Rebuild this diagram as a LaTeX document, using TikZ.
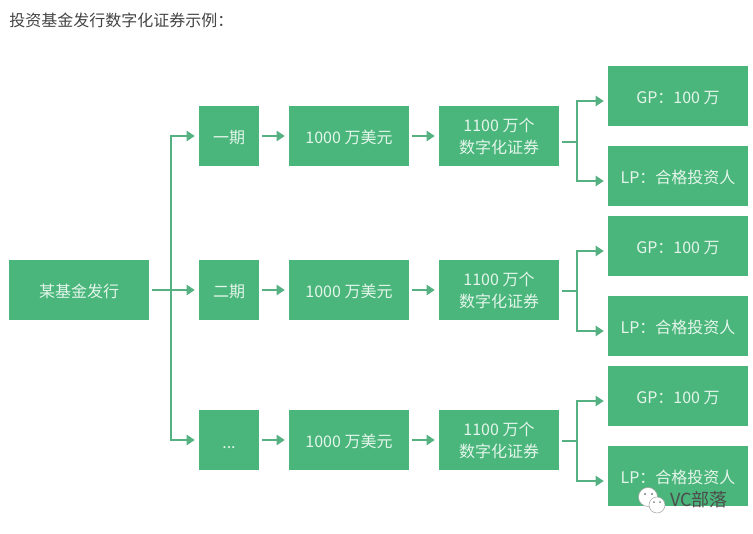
\documentclass[tikz,border=0pt]{standalone}
\usepackage{fontspec}
\setmainfont{Noto Sans CJK SC}
\usetikzlibrary{arrows.meta}
\definecolor{boxgreen}{HTML}{4AB67B}
\definecolor{linegreen}{HTML}{55B182}
\definecolor{boxtext}{HTML}{E4F6EB}
\definecolor{titlegray}{HTML}{444444}

\begin{document}
\begin{tikzpicture}[x=0.75pt, y=-0.75pt,
  box/.style={fill=boxgreen, text=boxtext, inner sep=0pt, align=center,
    minimum height=45pt, font=\fontsize{12}{16.5}\selectfont,
    execute at begin node={\rule{0pt}{12.5pt}}},
  wide/.style={box, minimum width=105pt},
  period/.style={box, minimum width=45pt},
  money/.style={box, minimum width=90pt},
  link/.style={draw=linegreen, line width=1.5pt},
  flow/.style={link, -{Triangle[length=6pt, width=7.5pt]}, shorten >=3pt}]
  \useasboundingbox (0,0) rectangle (753,533);
  \node[anchor=west, inner sep=0pt, text=titlegray, font=\fontsize{12}{14}\selectfont] (title) at (9,20) {投资基金发行数字化证券示例：};
  \node[wide] (root) at (79,290) {某基金发行};
  % first row
  \node[period] (p1) at (229,136) {一期};
  \node[money] (m1) at (349,136) {1000 万美元};
  \node[money] (t1) at (499,136) {1100 万个\\数字化证券};
  \node[wide] (g1) at (678,96) {GP：100 万};
  \node[wide] (l1) at (678,176) {LP：合格投资人};
  % second row
  \node[period] (p2) at (229,290) {二期};
  \node[money] (m2) at (349,290) {1000 万美元};
  \node[money] (t2) at (499,290) {1100 万个\\数字化证券};
  \node[wide] (g2) at (678,246) {GP：100 万};
  \node[wide] (l2) at (678,326) {LP：合格投资人};
  % third row
  \node[period] (p3) at (229,440) {...};
  \node[money] (m3) at (349,440) {1000 万美元};
  \node[money] (t3) at (499,440) {1100 万个\\数字化证券};
  \node[wide] (g3) at (678,396) {GP：100 万};
  \node[wide] (l3) at (678,476) {LP：合格投资人};
  % forks
  \coordinate (f0) at (171,290);
  \coordinate (f1) at (577,142);
  \coordinate (f2) at (577,291);
  \coordinate (f3) at (577,441);
  \draw[flow, shorten <=2pt] (root) -- (p2);
  \draw[flow] (f0) |- (p1);
  \draw[flow] (f0) |- (p3);
  \draw[flow, shorten <=2pt] (p1) -- (m1);
  \draw[flow, shorten <=2pt] (m1) -- (t1);
  \draw[flow, shorten <=2pt] (p2) -- (m2);
  \draw[flow, shorten <=2pt] (m2) -- (t2);
  \draw[flow, shorten <=2pt] (p3) -- (m3);
  \draw[flow, shorten <=2pt] (m3) -- (t3);
  \draw[link, shorten <=2pt] (t1.east |- f1) -- (f1);
  \draw[link, shorten <=2pt] (t2.east |- f2) -- (f2);
  \draw[link, shorten <=2pt] (t3.east |- f3) -- (f3);
  \draw[flow] (f1) |- ([yshift=-3.75pt]g1.west);
  \draw[flow] (f1) |- ([yshift=-3.75pt]l1.west);
  \draw[flow] (f2) |- ([yshift=-3.75pt]g2.west);
  \draw[flow] (f2) |- ([yshift=-3.75pt]l2.west);
  \draw[flow] (f3) |- ([yshift=-3.75pt]g3.west);
  \draw[flow] (f3) |- ([yshift=-3.75pt]l3.west);
  % watermark
  \filldraw[draw=gray!70, fill=white, line width=0.4pt] (648,497) circle (9.5);
  \filldraw[draw=gray!70, fill=white, line width=0.4pt] (657,505) circle (8);
  \fill[gray] (645,494) circle (1.2) (652,494) circle (1.2) (654,502) circle (1) (660,502) circle (1);
  \node[text=gray!60!black, font=\fontsize{13.5}{15}\selectfont] (mark) at (699,500) {VC部落};
\end{tikzpicture}
\end{document}
